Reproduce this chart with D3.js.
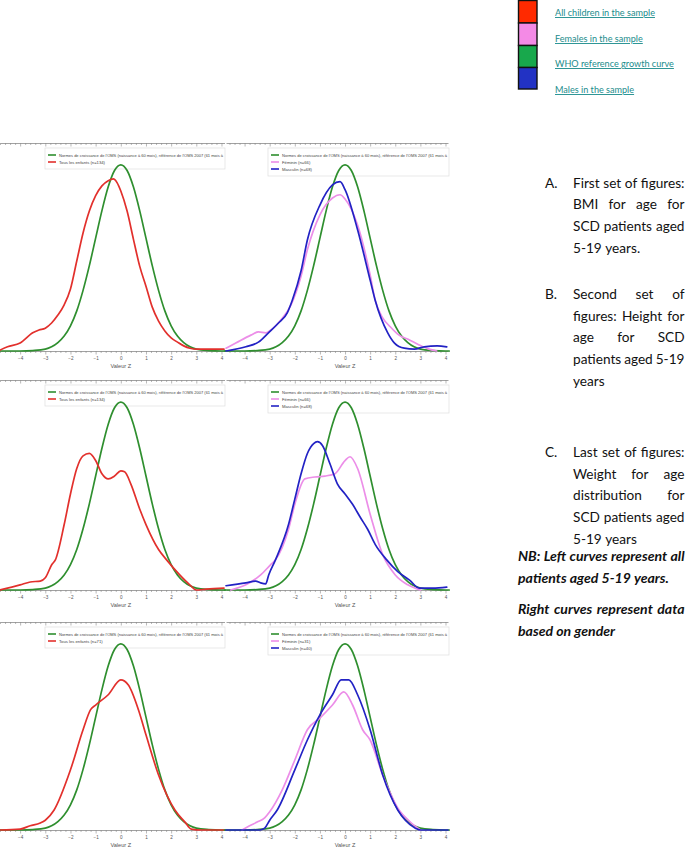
<!DOCTYPE html>
<html><head><meta charset="utf-8">
<script src="https://cdn.jsdelivr.net/npm/d3@7"></script>
<style>body{margin:0;background:#fff} svg{display:block}</style>
</head><body>
<svg id="c" width="685" height="851"></svg>
<script>
// ---------------- DATA ----------------
const zTicks = [-4, -3, -2, -1, 0, 1, 2, 3, 4];
const axisTitle = "Valeur Z";
const legendWho = "Normes de croissance de l'OMS (naissance à 60 mois), référence de l'OMS 2007 (61 mois à";

// WHO reference (standard normal density)
const who = [[-4.8,0],[-4,0],[-3.5,0.001],[-3,0.004],[-2.75,0.009],[-2.5,0.018],[-2.25,0.032],[-2,0.054],[-1.75,0.086],[-1.5,0.130],[-1.25,0.183],[-1,0.242],[-0.75,0.301],[-0.5,0.352],[-0.25,0.387],[0,0.399],[0.25,0.387],[0.5,0.352],[0.75,0.301],[1,0.242],[1.25,0.183],[1.5,0.130],[1.75,0.086],[2,0.054],[2.25,0.032],[2.5,0.018],[2.75,0.009],[3,0.004],[3.5,0.001],[4,0],[4.15,0]];

// A. BMI for age
const bmiAll = [[-4.8,.002],[-4.5,.009],[-4,.017],[-3.5,.039],[-3.25,.045],[-3,.049],[-2.75,.060],[-2.5,.077],[-2.25,.099],[-2,.133],[-1.75,.193],[-1.5,.253],[-1.25,.300],[-1,.333],[-0.75,.354],[-0.5,.365],[-0.3,.369],[-0.15,.361],[0,.343],[0.25,.300],[0.5,.240],[0.75,.182],[1,.139],[1.25,.094],[1.5,.064],[1.75,.043],[2,.028],[2.25,.019],[2.5,.011],[2.75,.006],[3,.004],[3.5,.004],[4.1,.004]];
const bmiF = [[-4.74,.006],[-4.35,.017],[-3.75,.034],[-3.45,.041],[-3.15,.039],[-2.95,.045],[-2.55,.067],[-2.15,.099],[-1.75,.161],[-1.5,.217],[-1,.292],[-0.5,.328],[-0.2,.335],[0,.326],[0.5,.270],[1,.163],[1.2,.109],[1.5,.071],[1.8,.052],[2.15,.034],[2.55,.024],[2.95,.013],[3.35,.004],[3.65,0]];
const bmiM = [[-4.74,0],[-3.95,.009],[-3.45,.019],[-3.05,.039],[-2.65,.060],[-2.3,.082],[-2.1,.109],[-1.75,.172],[-1.5,.238],[-1,.313],[-0.5,.356],[-0.2,.363],[0,.346],[0.5,.260],[1,.152],[1.2,.109],[1.7,.039],[1.97,.017],[2.36,.006],[2.76,.004],[3.15,.009],[3.67,.011],[4.05,.009]];

// B. Height for age
const hfaAll = [[-4.8,0],[-4,.011],[-3.6,.017],[-3.2,.019],[-3,.026],[-2.74,.054],[-2.6,.064],[-2.25,.139],[-2,.204],[-1.75,.258],[-1.5,.285],[-1.25,.290],[-1,.275],[-0.75,.247],[-0.5,.236],[-0.25,.242],[0,.253],[0.15,.251],[0.4,.225],[0.75,.172],[1,.139],[1.5,.086],[1.82,.064],[2.34,.032],[2.74,.011],[3,0],[3.4,.002],[4.1,.004]];
const hfaF = [[-4.55,0],[-3.95,.011],[-3.36,.032],[-2.96,.054],[-2.77,.064],[-2.25,.129],[-2,.182],[-1.6,.236],[-1.2,.240],[-0.8,.242],[-0.4,.247],[0,.275],[0.2,.283],[0.5,.258],[1,.161],[1.5,.075],[2,.032],[2.5,.011],[3,0]];
const hfaM = [[-4.74,.009],[-3.95,.015],[-3.56,.019],[-3.36,.015],[-3.16,.013],[-3.04,.032],[-2.77,.064],[-2.25,.139],[-2,.193],[-1.75,.247],[-1.5,.290],[-1.25,.311],[-1.1,.315],[-0.9,.307],[-0.6,.268],[-0.3,.225],[0,.204],[0.3,.182],[0.6,.155],[0.9,.129],[1.2,.097],[1.66,.064],[2.1,.039],[2.57,.021],[2.96,.004],[3.5,.004],[4.05,.006]];

// C. Weight for age
const wfaAll = [[-4.8,0],[-4,.002],[-3.6,.009],[-3.2,.015],[-3,.021],[-2.65,.043],[-2,.129],[-1.5,.215],[-1.2,.258],[-1,.268],[-0.5,.290],[0,.322],[0.3,.311],[0.7,.258],[1,.204],[1.5,.118],[2.15,.043],[2.55,.017],[2.8,.002],[3.2,0],[4.1,0]];
const wfaF = [[-4.1,0],[-3.8,.009],[-3.5,.017],[-3.2,.026],[-3,.039],[-2.5,.086],[-2,.150],[-1.5,.215],[-1,.240],[-0.5,.268],[-0.05,.296],[0.3,.268],[0.7,.215],[1,.193],[1.5,.118],[2.15,.043],[2.6,.017],[3,0]];
const wfaM = [[-4.74,0],[-3.4,0],[-3.2,.004],[-3,.021],[-2.7,.043],[-2,.129],[-1.5,.193],[-1,.247],[-0.5,.290],[-0.15,.322],[0.15,.322],[0.5,.290],[1,.215],[1.5,.118],[2.1,.043],[2.4,.021],[2.8,.004],[3,0],[4.1,0]];

const allLabels = ["Tous les enfants (n=134)", "Tous les enfants (n=134)", "Tous les enfants (n=71)"];
const femLabels = ["Féminin (n=66)", "Féminin (n=66)", "Féminin (n=31)"];
const malLabels = ["Masculin (n=68)", "Masculin (n=68)", "Masculin (n=40)"];

const keyLabels = ["All children in the sample", "Females in the sample", "WHO reference growth curve", "Males in the sample"];

const notes = [
  {label: "A.", lines: ["First set of figures:", "BMI for age for", "SCD patients aged", "5-19 years."]},
  {label: "B.", lines: ["Second set of", "figures: Height for", "age for SCD", "patients aged 5-19", "years"]},
  {label: "C.", lines: ["Last set of figures:", "Weight for age", "distribution for", "SCD patients aged", "5-19 years"]}
];
const nbNotes = [
  ["NB: Left curves represent all", "patients aged 5-19 years."],
  ["Right curves represent data", "based on gender"]
];

// ---------------- STYLE / LAYOUT ----------------
const C = {red:"#e2302c", pink:"#ec8ee8", green:"#2f8f2f", blue:"#2222c4"};
const keyC = ["#ff2a00", "#f48ae6", "#18a84c", "#2232c4"];
const svg = d3.select("#c");
const panelY = [{top:143, bottom:351}, {top:380, bottom:590}, {top:622, bottom:830}];
const series = [[bmiAll,bmiF,bmiM],[hfaAll,hfaF,hfaM],[wfaAll,wfaF,wfaM]];

const xL = d3.scaleLinear().domain([-4.8, 4.12]).range([0, 224.5]);
const xR = d3.scaleLinear().domain([-4.74, 4.1]).range([226, 448]);

const minor = d3.range(-48, 42, 2).map(v => v/10).filter(v => Math.abs(v - Math.round(v)) > 1e-6);
const AX_FONT = "Liberation Sans, Arial, sans-serif";

function drawAxes(g, x, top, bottom) {
  const mt = minor.filter(v => v >= x.domain()[0] && v <= x.domain()[1]);
  [top, bottom].forEach((yy, k) => {
    const a = g.append("g").attr("transform", `translate(0,${yy})`);
    a.call(d3.axisBottom(x).tickValues(mt).tickSize(2).tickFormat("").tickSizeOuter(0));
    const b = g.append("g").attr("transform", `translate(0,${yy})`);
    b.call(d3.axisBottom(x).tickValues(zTicks).tickSize(3.5).tickPadding(2).tickSizeOuter(0)
      .tickFormat(k === 1 ? d3.format("d") : ""));
    b.select(".domain").remove();
  });
  g.selectAll(".domain").attr("stroke", "#8a8a8a").attr("stroke-width", 0.8);
  g.selectAll(".tick line").attr("stroke", "#8a8a8a").attr("stroke-width", 0.6);
  g.selectAll(".tick text").attr("fill", "#555").attr("font-size", 4.6).attr("font-family", AX_FONT);
  g.append("text").attr("x", x(0)).attr("y", bottom + 17).attr("text-anchor", "middle")
    .attr("font-size", 5.6).attr("fill", "#555").attr("font-family", AX_FONT).text(axisTitle);
}

function drawLegend(g, x0, x1, top, items) {
  const h = 7 + items.length * 7;
  g.append("rect").attr("x", x0).attr("y", top).attr("width", x1 - x0).attr("height", h)
    .attr("fill", "#fff").attr("stroke", "#dedede").attr("stroke-width", 0.7);
  items.forEach((it, i) => {
    const y = top + 7 + i * 7;
    g.append("line").attr("x1", x0 + 3).attr("x2", x0 + 11).attr("y1", y).attr("y2", y)
      .attr("stroke", it.c).attr("stroke-width", 1.6);
    const t = g.append("text").attr("x", x0 + 14).attr("y", y + 1.5).attr("font-size", 4.2).attr("fill", "#444")
      .attr("font-family", AX_FONT).text(it.t);
    if (it.fit) t.attr("textLength", x1 - x0 - 16).attr("lengthAdjust", "spacingAndGlyphs");
  });
}

function drawCurve(g, x, y, data, color, w) {
  const line = d3.line().x(d => x(d[0])).y(d => y(d[1])).curve(d3.curveMonotoneX);
  g.append("path").datum(data).attr("d", line).attr("fill", "none").attr("stroke", color)
    .attr("stroke-width", w || 1.7).attr("stroke-linejoin", "round").attr("stroke-linecap", "round");
}

panelY.forEach((p, i) => {
  const y = d3.scaleLinear().domain([0, 0.446]).range([p.bottom, p.top]);
  const gL = svg.append("g"), gR = svg.append("g");
  drawAxes(gL, xL, p.top, p.bottom);
  drawAxes(gR, xR, p.top, p.bottom);
  drawLegend(gL, 45, 225, p.top + 5, [{c:C.green, t:legendWho, fit:true}, {c:C.red, t:allLabels[i]}]);
  drawLegend(gR, 268, 449, p.top + 5, [{c:C.green, t:legendWho, fit:true}, {c:C.pink, t:femLabels[i]}, {c:C.blue, t:malLabels[i]}]);
  const [sa, sf, sm] = series[i];
  drawCurve(gL, xL, y, who, C.green);
  drawCurve(gL, xL, y, sa, C.red);
  drawCurve(gR, xR, y, who, C.green);
  drawCurve(gR, xR, y, sf, C.pink);
  drawCurve(gR, xR, y, sm, C.blue);
});

// ---------------- TOP KEY ----------------
const key = svg.append("g");
keyLabels.forEach((t, i) => {
  const y0 = [0, 22.5, 45, 67][i], h = [22.5, 22.5, 22, 21.5][i];
  key.append("rect").attr("x", 518.5).attr("y", y0 + 0.5).attr("width", 18.5).attr("height", h)
    .attr("fill", keyC[i]).attr("stroke", "#111").attr("stroke-width", 1.4);
  key.append("text").attr("x", 555).attr("y", [16, 42, 67, 93][i]).attr("font-size", 9.1)
    .attr("font-family", "Lato, 'Open Sans', sans-serif").attr("fill", "#1b8c8c")
    .attr("text-decoration", "underline").text(t);
});

// ---------------- NOTES ----------------
const notesG = svg.append("g");
function measure(text, font) {
  const t = svg.append("text").attr("style", font).text(text);
  const w = t.node().getComputedTextLength(); t.remove();
  return w;
}
function justifyLine(g, text, x0, x1, yb, font, justify) {
  const words = text.split(" ");
  const widths = words.map(w => measure(w, font));
  const sw = measure("a a", font) - 2 * measure("a", font);
  const total = d3.sum(widths);
  let gap = sw;
  if (justify && words.length > 1) gap = Math.max(sw * 0.6, (x1 - x0 - total) / (words.length - 1));
  let x = x0;
  words.forEach((w, k) => {
    g.append("text").attr("x", x).attr("y", yb).attr("style", font).text(w);
    x += widths[k] + gap;
  });
}
const bodyFam = "Lato, 'Open Sans', sans-serif";
function fitSize(text, target, extra) {
  return 20 * target / measure(text, `font-family:${bodyFam};font-size:20px;${extra}`);
}
const bodySize = fitSize("First set of figures:", 111, "");
const bodyFont = `font-family:${bodyFam};font-size:${bodySize}px;fill:#111`;
const nbSize = fitSize("NB: Left curves represent all", 166, "font-weight:bold;font-style:italic;");
const nbFont = `font-family:${bodyFam};font-size:${nbSize}px;fill:#111;font-weight:bold;font-style:italic`;
const noteY = [187.5, 299, 457];
notes.forEach((b, i) => {
  notesG.append("text").attr("x", 545).attr("y", noteY[i]).attr("style", bodyFont).text(b.label);
  b.lines.forEach((ln, k) => {
    justifyLine(notesG, ln, 573, 684.5, noteY[i] + k * 21.7, bodyFont, k < b.lines.length - 1);
  });
});
const nbY = [561, 614];
nbNotes.forEach((lines, i) => {
  lines.forEach((ln, k) => justifyLine(notesG, ln, 518, 684.5, nbY[i] + k * 21.7, nbFont, k < lines.length - 1));
});
</script>
</body></html>
